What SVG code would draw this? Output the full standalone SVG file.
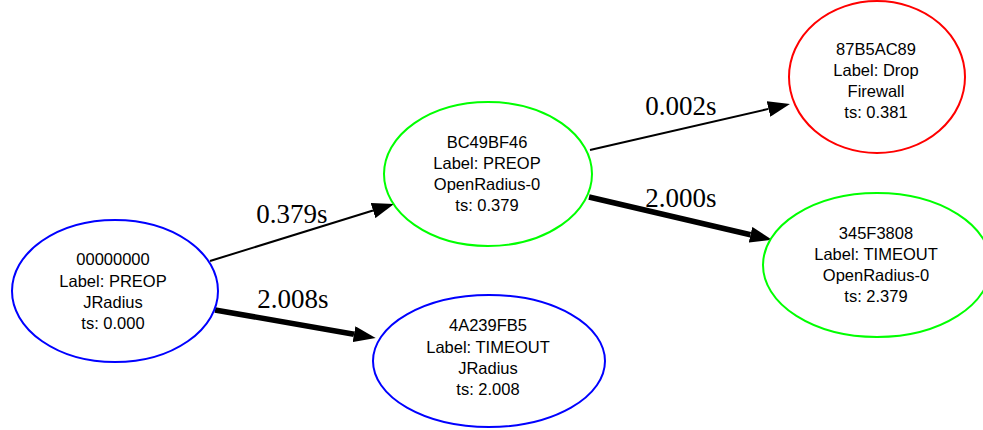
<svg xmlns="http://www.w3.org/2000/svg" width="983" height="430" viewBox="0 0 983 430">
  <defs>
    <marker id="arrow" viewBox="0 0 22 16" refX="0" refY="8" markerWidth="22" markerHeight="16" markerUnits="userSpaceOnUse" orient="auto">
      <path d="M0,0 L22,8 L0,16 Z" fill="#000"/>
    </marker>
    <style>
      .node text { font-family: "Liberation Sans", Arial, sans-serif; font-size: 16.5px; fill: #000; text-anchor: middle; }
      .node ellipse { fill: #fff; stroke-width: 2; }
      .blue { stroke: #0000ff; }
      .green { stroke: #00ff00; }
      .red { stroke: #ff0000; }
      .edge line { stroke: #000; marker-end: url(#arrow); }
      .thin { stroke-width: 2; }
      .thick { stroke-width: 5.5; }
      .elabel { font-family: "Liberation Serif", "Times New Roman", serif; font-size: 27px; fill: #000; text-anchor: middle; }
    </style>
  </defs>
  <rect width="983" height="430" fill="#fff"/>

  <g id="edges">
    <g class="edge" id="e_A_C">
      <line class="thin" x1="210" y1="261" x2="373" y2="210.5"/>
      <text class="elabel" x="292" y="223">0.379s</text>
    </g>
    <g class="edge" id="e_A_B">
      <line class="thick" x1="215" y1="310" x2="354" y2="334.2"/>
      <text class="elabel" x="293" y="308">2.008s</text>
    </g>
    <g class="edge" id="e_C_D">
      <line class="thin" x1="590" y1="150" x2="768.5" y2="108.9"/>
      <text class="elabel" x="681" y="115">0.002s</text>
    </g>
    <g class="edge" id="e_C_E">
      <line class="thick" x1="589" y1="197" x2="750.5" y2="234.7"/>
      <text class="elabel" x="681" y="207">2.000s</text>
    </g>
  </g>

  <g class="node" id="n00000000">
    <ellipse class="blue" cx="115" cy="291" rx="103" ry="71"/>
    <text x="113" y="265">00000000</text>
    <text x="113" y="286.5">Label: PREOP</text>
    <text x="113" y="307.5">JRadius</text>
    <text x="113" y="328.5">ts: 0.000</text>
  </g>

  <g class="node" id="n4A239FB5">
    <ellipse class="blue" cx="489" cy="361" rx="116" ry="66"/>
    <text x="488" y="331">4A239FB5</text>
    <text x="488" y="352.5">Label: TIMEOUT</text>
    <text x="488" y="373.5">JRadius</text>
    <text x="488" y="395">ts: 2.008</text>
  </g>

  <g class="node" id="nBC49BF46">
    <ellipse class="green" cx="488" cy="174" rx="104" ry="72"/>
    <text x="487" y="148">BC49BF46</text>
    <text x="487" y="169">Label: PREOP</text>
    <text x="487" y="190">OpenRadius-0</text>
    <text x="487" y="211">ts: 0.379</text>
  </g>

  <g class="node" id="n87B5AC89">
    <ellipse class="red" cx="877" cy="77" rx="88" ry="76"/>
    <text x="876" y="55">87B5AC89</text>
    <text x="876" y="76">Label: Drop</text>
    <text x="876" y="97">Firewall</text>
    <text x="876" y="118">ts: 0.381</text>
  </g>

  <g class="node" id="n345F3808">
    <ellipse class="green" cx="877" cy="265" rx="114" ry="72"/>
    <text x="876" y="238.5">345F3808</text>
    <text x="876" y="259.5">Label: TIMEOUT</text>
    <text x="876" y="280.5">OpenRadius-0</text>
    <text x="876" y="301.5">ts: 2.379</text>
  </g>
</svg>
